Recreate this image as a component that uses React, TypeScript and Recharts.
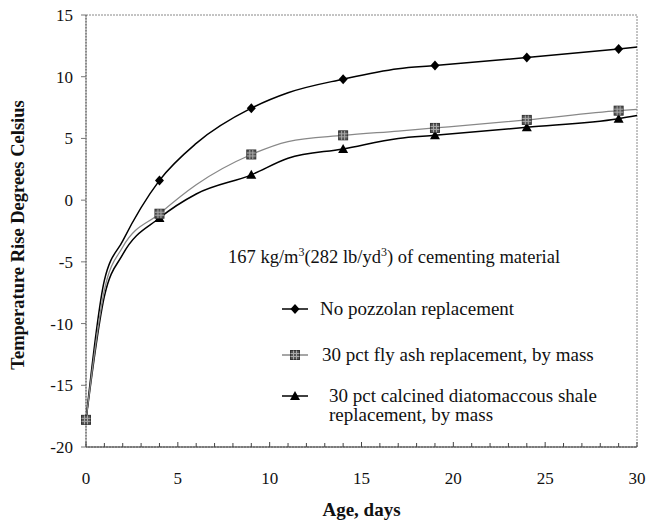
import React from 'react';
import { LineChart, Line, XAxis, YAxis, ReferenceArea } from 'recharts';

// age (days) and temperature rise (deg C)
const ageDays = [0, 1, 2, 4, 6, 9, 11, 14, 17, 19, 24, 29, 30];
const noPozzolan = [-17.8, -6.5, -3.3, 1.6, 4.6, 7.45, 8.7, 9.8, 10.65, 10.9, 11.55, 12.25, 12.4];
const flyAsh = [-17.8, -7.3, -3.8, -1.1, 1.25, 3.7, 4.75, 5.25, 5.6, 5.85, 6.5, 7.25, 7.35];
const diatomShale = [-17.8, -7.8, -4.4, -1.45, 0.5, 2.05, 3.4, 4.15, 5.0, 5.25, 5.9, 6.6, 6.85];

const markerDays = [0, 4, 9, 14, 19, 24, 29];
const xLabelTicks = [0, 5, 10, 15, 20, 25, 30];
const xMinorTicks = [0, 1, 2, 3, 4, 5, 6, 7, 8, 9, 10, 11, 12, 13, 14, 15, 16, 17, 18, 19, 20, 21, 22, 23, 24, 25, 26, 27, 28, 29, 30];
const yTicks = [-20, -15, -10, -5, 0, 5, 10, 15];

const data = ageDays.map((day, i) => ({
  day,
  none: noPozzolan[i],
  fly: flyAsh[i],
  shale: diatomShale[i],
}));

const FONT = '"Liberation Serif", "Times New Roman", serif';

const Diamond = ({ cx, cy }: { cx: number; cy: number }) => (
  <polygon points={`${cx},${cy - 5} ${cx + 4.5},${cy} ${cx},${cy + 5} ${cx - 4.5},${cy}`} fill="#000" />
);

const HatchSquare = ({ cx, cy }: { cx: number; cy: number }) => (
  <g>
    <rect x={cx - 4.5} y={cy - 4.5} width={9} height={9} fill="#555" stroke="#333" strokeWidth={1} />
    <line x1={cx - 4.5} x2={cx + 4.5} y1={cy - 1.5} y2={cy - 1.5} stroke="#aaa" strokeWidth={1} />
    <line x1={cx - 4.5} x2={cx + 4.5} y1={cy + 1.5} y2={cy + 1.5} stroke="#aaa" strokeWidth={1} />
    <line x1={cx - 1.5} x2={cx - 1.5} y1={cy - 4.5} y2={cy + 4.5} stroke="#aaa" strokeWidth={1} />
    <line x1={cx + 1.5} x2={cx + 1.5} y1={cy - 4.5} y2={cy + 4.5} stroke="#aaa" strokeWidth={1} />
  </g>
);

const Triangle = ({ cx, cy }: { cx: number; cy: number }) => (
  <polygon points={`${cx},${cy - 5} ${cx + 5},${cy + 4} ${cx - 5},${cy + 4}`} fill="#000" />
);

// only draw symbols on the measured days
const makeDot = (Shape: any) => (props: any) => {
  const { cx, cy, payload, index } = props;
  if (!markerDays.includes(payload.day)) return <g key={`e-${index}`} />;
  return (
    <g key={`d-${index}`}>
      <Shape cx={cx} cy={cy} />
    </g>
  );
};

const XTick = (props: any) => {
  const { x, y, payload } = props;
  const major = xLabelTicks.includes(payload.value);
  return (
    <g>
      <line x1={x} x2={x} y1={y} y2={y - (major ? 5 : 4)} stroke="#444" strokeWidth={1} />
      {major && (
        <text x={x} y={y + 37} textAnchor="middle" fontFamily={FONT} fontSize={17} fill="#111">
          {payload.value}
        </text>
      )}
    </g>
  );
};

const YTitle = (props: any) => {
  const { viewBox } = props;
  const cx = viewBox.x + 18;
  const cy = viewBox.y + viewBox.height / 2 + 4;
  return (
    <text
      x={cx}
      y={cy}
      transform={`rotate(-90 ${cx} ${cy})`}
      textAnchor="middle"
      dominantBaseline="central"
      fontFamily={FONT}
      fontWeight="bold"
      fontSize={18.5}
      fill="#111"
    >
      Temperature Rise Degrees Celsius
    </text>
  );
};

const XTitle = (props: any) => {
  const { viewBox } = props;
  return (
    <text
      x={viewBox.x + viewBox.width / 2}
      y={viewBox.y + 69}
      textAnchor="middle"
      fontFamily={FONT}
      fontWeight="bold"
      fontSize={19}
      fill="#111"
    >
      Age, days
    </text>
  );
};

const legendRows = [
  { label: ['No pozzolan replacement'], stroke: '#000', Shape: Diamond, top: 309, textLeft: 320 },
  { label: ['30 pct fly ash replacement, by mass'], stroke: '#888', Shape: HatchSquare, top: 355, textLeft: 322 },
  { label: ['30 pct calcined diatomaccous shale', 'replacement, by mass'], stroke: '#000', Shape: Triangle, top: 396, textLeft: 329 },
];

export default function App() {
  return (
    <div style={{ position: 'absolute', left: 0, top: 0, width: 646, height: 521, background: '#fff' }}>
      <LineChart width={646} height={521} data={data} margin={{ top: 15, right: 9, bottom: 0, left: 0 }}>
        <ReferenceArea x1={0} x2={30} y1={-20} y2={15} fill="none" stroke="#888" strokeDasharray="2 1" ifOverflow="visible" />
        <XAxis
          dataKey="day"
          type="number"
          domain={[0, 30]}
          ticks={xMinorTicks}
          interval={0}
          height={74}
          tickSize={0}
          tickMargin={0}
          tickLine={false}
          tick={<XTick />}
          axisLine={{ stroke: '#333', strokeWidth: 1 }}
          label={<XTitle />}
        />
        <YAxis
          type="number"
          domain={[-20, 15]}
          ticks={yTicks}
          interval={0}
          width={86}
          tickSize={5}
          tickMargin={8}
          tickLine={{ stroke: '#777' }}
          axisLine={{ stroke: '#555', strokeWidth: 1, strokeDasharray: '2 1' }}
          tick={{ fontFamily: FONT, fontSize: 17, fill: '#111' }}
          label={<YTitle />}
        />
        <Line
          dataKey="none"
          type="monotone"
          stroke="#000"
          strokeWidth={1.5}
          dot={makeDot(Diamond)}
          isAnimationActive={false}
        />
        <Line
          dataKey="shale"
          type="monotone"
          stroke="#000"
          strokeWidth={1.5}
          dot={makeDot(Triangle)}
          isAnimationActive={false}
        />
        <Line
          dataKey="fly"
          type="monotone"
          stroke="#888"
          strokeWidth={1.3}
          dot={makeDot(HatchSquare)}
          isAnimationActive={false}
        />
      </LineChart>

      <div
        style={{
          position: 'absolute',
          left: 228,
          top: 242,
          fontFamily: FONT,
          fontSize: 18.5,
          lineHeight: '21px',
          color: '#111',
          whiteSpace: 'nowrap',
        }}
      >
        167 kg/m<sup style={{ fontSize: 12 }}>3</sup>(282 lb/yd<sup style={{ fontSize: 12 }}>3</sup>) of cementing material
      </div>

      {legendRows.map((row) => (
        <div key={row.label[0]}>
          <svg style={{ position: 'absolute', left: 280, top: row.top - 8 }} width={30} height={16}>
            <line x1={2} x2={28} y1={8} y2={8} stroke={row.stroke} strokeWidth={1.5} />
            <row.Shape cx={15} cy={8} />
          </svg>
          <div
            style={{
              position: 'absolute',
              left: row.textLeft,
              top: row.top - 10,
              fontFamily: FONT,
              fontSize: 19,
              lineHeight: '19px',
              color: '#111',
              whiteSpace: 'nowrap',
            }}
          >
            {row.label.map((l) => (
              <div key={l}>{l}</div>
            ))}
          </div>
        </div>
      ))}
    </div>
  );
}
